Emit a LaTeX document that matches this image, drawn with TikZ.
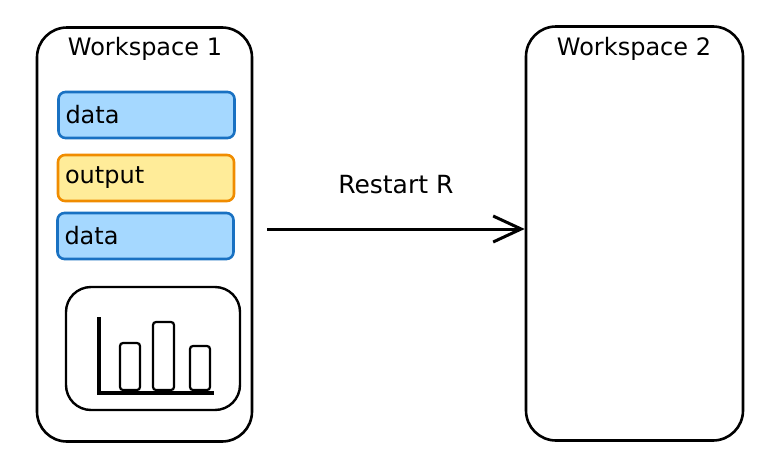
\documentclass[tikz,border=0pt]{standalone}
\usepackage{fontspec}
\setmainfont{DejaVu Sans}
\usetikzlibrary{arrows.meta}
\definecolor{datafill}{HTML}{A5D8FF}
\definecolor{dataline}{HTML}{1971C2}
\definecolor{outfill}{HTML}{FFEC99}
\definecolor{outline}{HTML}{F08C00}

\begin{document}
\begin{tikzpicture}[x=1pt, y=-1pt,
  wsbox/.style={draw, line width=2.6pt, rounded corners=30pt, minimum width=215pt, minimum height=414pt},
  item/.style={draw, line width=2.6pt, rounded corners=7pt, text width=162pt, align=left,
    inner xsep=7pt, minimum height=46pt, font=\fontsize{24}{28}\selectfont},
  title/.style={font=\fontsize{24}{28}\selectfont}]
  \useasboundingbox (0,0) rectangle (777,450);
  \node[wsbox] (ws1) at (144.5,234.5) {};
  \node[wsbox, minimum width=217pt] (ws2) at (634.5,233.5) {};
  \node[title] (t1) at (145,49) {Workspace 1};
  \node[title] (t2) at (634,49) {Workspace 2};
  \node[item, fill=datafill, draw=dataline] (data1) at (146.5,115) {data};
  \node[item, fill=outfill, draw=outline] (out) at (146,178) {output};
  \node[item, fill=datafill, draw=dataline] (data2) at (145.5,236) {data};
  \node[draw, line width=2.4pt, rounded corners=25pt, minimum width=174pt, minimum height=123pt] (chart) at (153,348.5) {};
  % bars
  \draw[line width=2.2pt, rounded corners=3pt] (120,390) rectangle (140,343);
  \draw[line width=2.2pt, rounded corners=3pt] (153,390) rectangle (174,322);
  \draw[line width=2.2pt, rounded corners=3pt] (190,390) rectangle (210,346);
  \draw[line width=3.2pt] (99,317) -- (99,393) -- (214,393);
  % restart arrow
  \coordinate (start) at (267,229);
  \draw[line width=3pt, -{Straight Barb[length=28pt, width=26pt]}] (start) -- (start -| ws2.west)
    node[midway, above=30pt, title, font=\fontsize{25}{29}\selectfont] (lbl) {Restart R};
\end{tikzpicture}
\end{document}
